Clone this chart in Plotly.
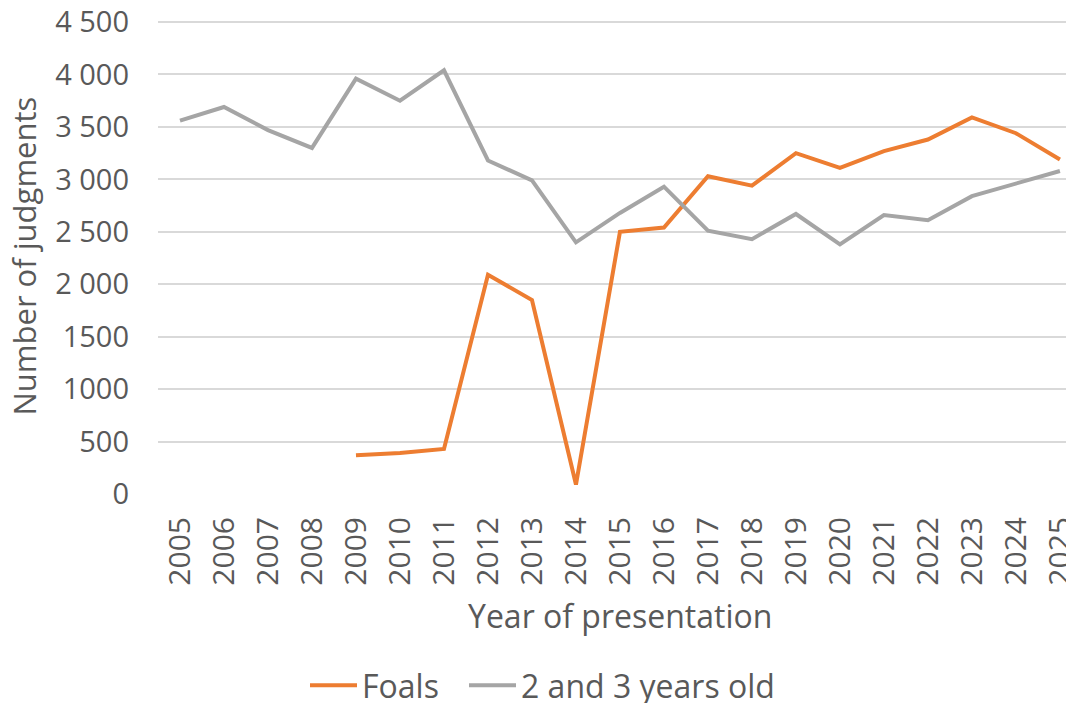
import plotly.graph_objects as go

years = [str(y) for y in range(2005, 2026)]
foals = [None, None, None, None, 370, 390, 430, 2090, 1850, 90, 2500, 2540,
         3030, 2940, 3250, 3110, 3270, 3380, 3590, 3440, 3190]
two_three = [3560, 3690, 3470, 3300, 3960, 3750, 4040, 3180, 2990, 2400, 2680,
             2930, 2510, 2430, 2670, 2380, 2660, 2610, 2840, 2960, 3080]
y_tickvals = [0, 500, 1000, 1500, 2000, 2500, 3000, 3500, 4000, 4500]
y_ticktext = ["0", "500", "1000", "1500", "2 000", "2 500", "3 000",
              "3 500", "4 000", "4 500"]

FONT = "Open Sans"
TXT = "#595959"

# the page body adds an 8px offset; size the figure so the plot ends at the window edge
OFF = 8
W, H = 1074 - OFF, 703 - OFF
Y0_ABS, Y4500_ABS = 494.5, 22.5
YMAX = 4510
top_abs = Y0_ABS - (Y0_ABS - Y4500_ABS) * YMAX / 4500
L = 158 - OFF
T = top_abs - OFF
B = H - (Y0_ABS - OFF)
PW = W - L
PH = H - T - B

def px(xabs):
    return (xabs - 158) / PW

def py(yabs):
    return (Y0_ABS - yabs) / PH

fig = go.Figure()
fig.add_trace(go.Scatter(x=years, y=foals, mode="lines", name="Foals",
                         line=dict(color="#ED7D31", width=4), legend="legend"))
fig.add_trace(go.Scatter(x=years, y=two_three, mode="lines", name="2 and 3 years old",
                         line=dict(color="#A5A5A5", width=4), legend="legend2"))

leg_common = dict(orientation="h", xanchor="left", yanchor="middle",
                  font=dict(size=32, color=TXT), itemwidth=47, bgcolor="rgba(0,0,0,0)")

fig.update_layout(
    width=W, height=H,
    margin=dict(l=L, r=0, t=T, b=B, autoexpand=False),
    paper_bgcolor="white", plot_bgcolor="white",
    font=dict(family=FONT, color=TXT, size=30),
    showlegend=True,
    legend=dict(x=px(305), y=py(686), **leg_common),
    legend2=dict(x=px(464), y=py(686), **leg_common),
    xaxis=dict(type="category", range=[-0.5, 20.32], tickangle=-90, showgrid=False,
               zeroline=False, showline=False, ticks="", ticklabelstandoff=16,
               tickfont=dict(size=30, color=TXT), ticklabeloverflow="allow"),
    yaxis=dict(range=[0, YMAX], tickvals=y_tickvals, ticktext=y_ticktext,
               showgrid=True, gridcolor="#D9D9D9", gridwidth=1.5, zeroline=False,
               showline=False, ticks="", ticklabelstandoff=28,
               tickfont=dict(size=29, color=TXT), ticklabeloverflow="allow"),
    annotations=[
        dict(text="Number of judgments", xref="paper", yref="paper",
             x=px(24), y=py(257), textangle=-90,
             showarrow=False, xanchor="center", yanchor="middle",
             font=dict(size=31, color=TXT)),
        dict(text="Year of presentation", xref="paper", yref="paper",
             x=px(620), y=py(616),
             showarrow=False, xanchor="center", yanchor="middle",
             font=dict(size=32, color=TXT)),
    ],
)

fig.write_html("out.html")
